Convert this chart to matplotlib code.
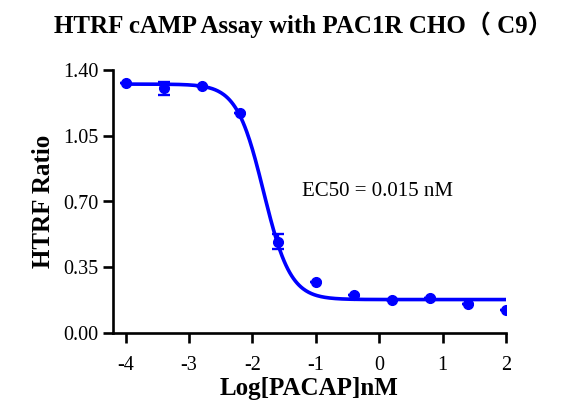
import numpy as np
import matplotlib
matplotlib.use("Agg")
import matplotlib.pyplot as plt

# Data (log10 concentration, nM) and HTRF ratio
log_conc = [-4.0, -3.4, -2.8, -2.2, -1.6, -1.0, -0.4, 0.2, 0.8, 1.4, 2.0]
ratio = [1.329, 1.302, 1.316, 1.172, 0.485, 0.271, 0.200, 0.174, 0.186, 0.156, 0.124]
ratio_err = [0.0, 0.036, 0.0, 0.0, 0.040, 0.0, 0.0, 0.0, 0.0, 0.0, 0.0]

# Fitted 4PL parameters
fit_top = 1.325
fit_bottom = 0.178
fit_log_ec50 = np.log10(0.015)
fit_hill = 2.05

xticks = [-4, -3, -2, -1, 0, 1, 2]
yticks = [0.00, 0.35, 0.70, 1.05, 1.40]

blue = "#0000ff"
plt.rcParams['font.family'] = ['Liberation Serif', 'Noto Sans CJK SC', 'DejaVu Sans']

fig = plt.figure(figsize=(5.79, 4.11), dpi=100)
ax = fig.add_axes([113/579, 1-333/411, 393/579, 263/411])

xf = np.linspace(log_conc[0], log_conc[-1], 400)
yf = fit_bottom + (fit_top - fit_bottom) / (1 + 10 ** ((xf - fit_log_ec50) * fit_hill))
ax.plot(xf, yf, color=blue, lw=2.6, zorder=2)
ax.errorbar(log_conc, ratio, yerr=ratio_err, fmt='o', color=blue, ms=7,
            elinewidth=1.7, capsize=4, capthick=1.7, zorder=3)

ax.set_xlim(-4.2, 2.0)
ax.set_ylim(0, 1.40)
ax.set_xticks(xticks)
ax.set_xticklabels([str(t) for t in xticks])
ax.set_yticks(yticks)
ax.set_yticklabels([f"{t:.2f}" for t in yticks])
for s in ['top', 'right']:
    ax.spines[s].set_visible(False)
for s in ['left', 'bottom']:
    ax.spines[s].set_linewidth(1.9)
ax.tick_params(axis='both', direction='out', length=7.2, width=1.9, labelsize=14.5)
ax.tick_params(axis='x', pad=9)
ax.tick_params(axis='y', pad=3)

ax.set_xlabel("Log[PACAP]nM", fontsize=18, fontweight='bold', labelpad=2)
ax.set_ylabel("HTRF Ratio", fontsize=18, fontweight='bold', labelpad=6)
ax.text(-1.22, 0.730, "EC50 = 0.015 nM", fontsize=15, va='baseline', ha='left')
fig.text(303/579, 1 - 33.3/411, "HTRF cAMP Assay with PAC1R CHO（ C9）",
         ha='center', va='baseline', fontsize=18, fontweight='bold')

fig.savefig("out.png", dpi=100)
